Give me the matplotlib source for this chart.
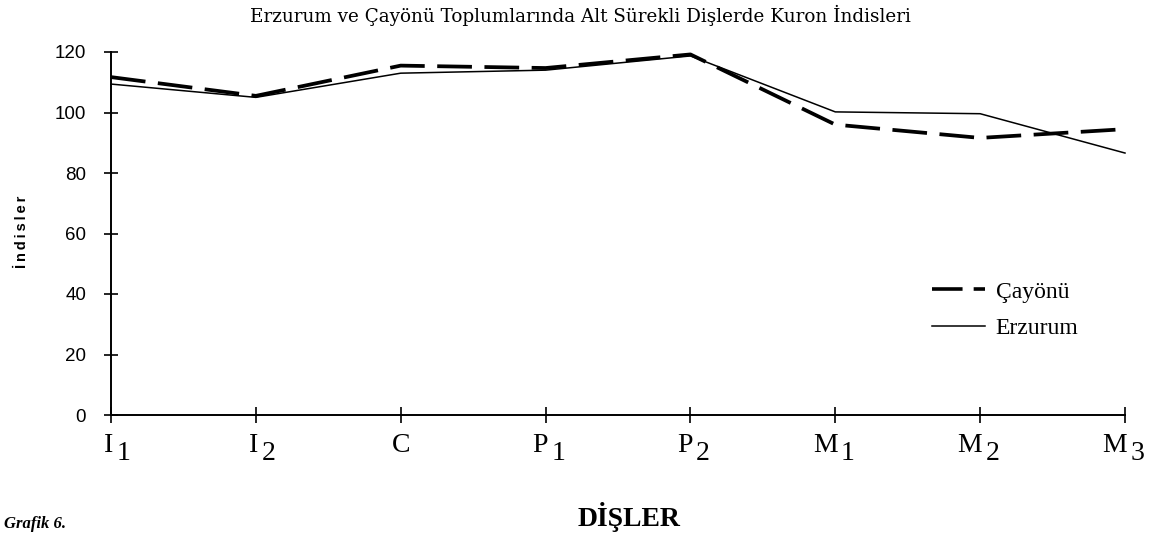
import matplotlib
matplotlib.use("Agg")
import matplotlib.pyplot as plt

teeth = ["I1", "I2", "C", "P1", "P2", "M1", "M2", "M3"]
cayonu = [111.7, 105.5, 115.5, 114.7, 119.2, 96.0, 91.6, 94.5]
erzurum = [109.4, 105.0, 113.0, 114.0, 118.7, 100.2, 99.6, 86.6]
yticks = [0, 20, 40, 60, 80, 100, 120]

plt.rcParams['lines.scale_dashes'] = False

W, H = 1155, 533
fig = plt.figure(figsize=(W / 100, H / 100), dpi=100)
ax = fig.add_axes([111 / W, (H - 415) / H, (1125 - 111) / W, (415 - 52) / H])

x = list(range(len(teeth)))
ax.plot(x, cayonu, color='black', lw=2.7, linestyle=(0, (25, 9)), label='Çayönü', clip_on=False)
ax.plot(x, erzurum, color='black', lw=1.1, label='Erzurum', clip_on=False)

ax.set_xlim(0, len(teeth) - 1)
ax.set_ylim(0, 120)
ax.set_xticks(x)
ax.set_xticklabels([])
ax.set_yticks(yticks)
ax.set_yticklabels([str(v) for v in yticks], fontsize=13.5, family='Liberation Sans')

for s in ['top', 'right']:
    ax.spines[s].set_visible(False)
for s in ['left', 'bottom']:
    ax.spines[s].set_linewidth(1.4)
ax.tick_params(axis='y', direction='inout', length=10, width=1.2, pad=13)
ax.tick_params(axis='x', direction='inout', length=12, width=1.2)

# tooth labels with full-size lowered subscripts
tfont = dict(family='Liberation Serif', fontsize=20)
for i, t in enumerate(teeth):
    main, sub = t[0], t[1:]
    if sub:
        ax.annotate(main, xy=(i, 0), xycoords=('data', 'axes fraction'),
                    xytext=(1.5, -13), textcoords='offset points',
                    ha='right', va='top', **tfont)
        ax.annotate(sub, xy=(i, 0), xycoords=('data', 'axes fraction'),
                    xytext=(4.0, -19), textcoords='offset points',
                    ha='left', va='top', **tfont)
    else:
        ax.annotate(main, xy=(i, 0), xycoords=('data', 'axes fraction'),
                    xytext=(0, -13), textcoords='offset points',
                    ha='center', va='top', **tfont)

fig.text(22 / W, 1 - 232 / H, "İ\u2009n\u2009d\u2009i\u2009s\u2009l\u2009e\u2009r", rotation=90,
         fontsize=10.5, fontweight='bold', family=['Liberation Sans', 'DejaVu Sans'],
         ha='center', va='center')
fig.text(629 / W, 1 - 517 / H, "DİŞLER", fontsize=20, fontweight='bold',
         family='Liberation Serif', ha='center', va='center')
fig.text(4 / W, 1 - 524 / H, "Grafik 6.", fontsize=12, fontweight='bold', style='italic',
         family='Liberation Serif', ha='left', va='center')
fig.text(580 / W, 1 - 15 / H, "Erzurum ve Çayönü Toplumlarında Alt Sürekli Dişlerde Kuron İndisleri",
         fontsize=13.2, family='DejaVu Serif', ha='center', va='center')

leg = ax.legend(loc='upper left', bbox_to_anchor=(932 / W, 1 - 281 / H),
                bbox_transform=fig.transFigure, frameon=False, borderpad=0, borderaxespad=0,
                prop={'family': 'Liberation Serif', 'size': 17}, handlelength=2.25,
                handletextpad=0.45, labelspacing=0.65)
leg.get_lines()[0].set_linestyle((0, (22, 8)))
leg.get_lines()[0].set_linewidth(2.6)

fig.savefig("out.png", dpi=100)
